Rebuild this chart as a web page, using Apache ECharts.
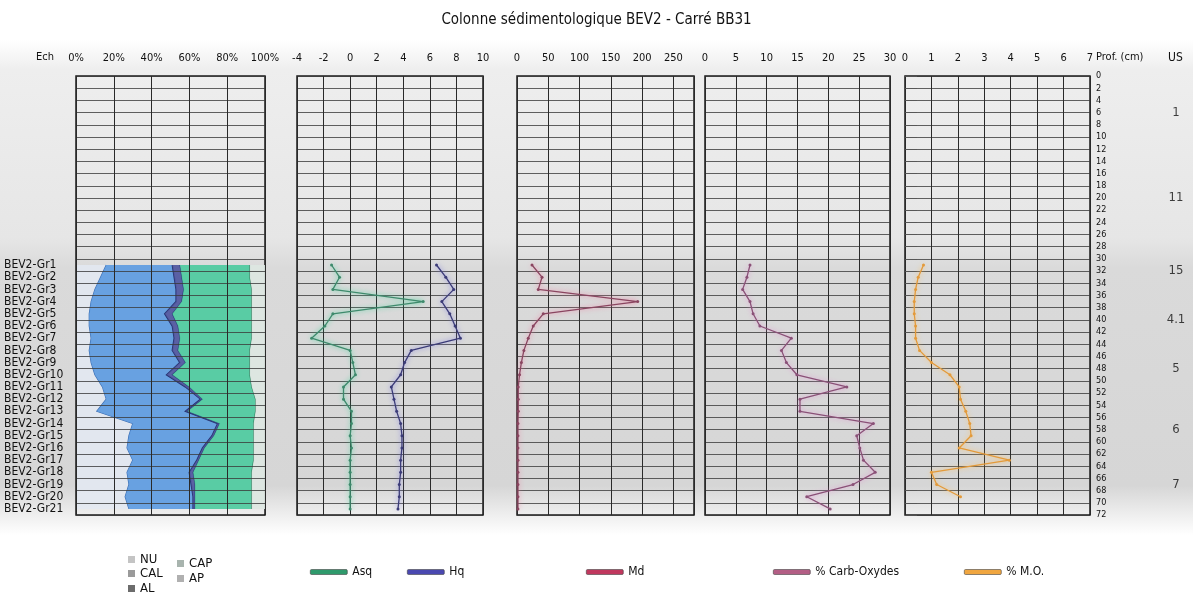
<!DOCTYPE html>
<html>
<head>
<meta charset="utf-8">
<script src="https://cdn.jsdelivr.net/npm/echarts@6/dist/echarts.min.js"></script>
<style>
  html, body { margin: 0; padding: 0; background: #ffffff; }
  #chart { width: 1193px; height: 595px; }
</style>
</head>
<body>
<div id="chart"></div>
<script>
// Sample identifiers and their depth (cm)
const sampleNames = ['BEV2-Gr1','BEV2-Gr2','BEV2-Gr3','BEV2-Gr4','BEV2-Gr5','BEV2-Gr6','BEV2-Gr7',
  'BEV2-Gr8','BEV2-Gr9','BEV2-Gr10','BEV2-Gr11','BEV2-Gr12','BEV2-Gr13','BEV2-Gr14',
  'BEV2-Gr15','BEV2-Gr16','BEV2-Gr17','BEV2-Gr18','BEV2-Gr19','BEV2-Gr20','BEV2-Gr21'];
const sampleDepths = [31,33,35,37,39,41,43,45,47,49,51,53,55,57,59,61,63,65,67,69,71];

// Granulometric composition (%)
const compNames = ['NU','CAL','AL','CAP','AP'];
const NU  = [16,13,10,8,7,7,8,7,8,10,14,16,11,30,28,27,30,27,28,26,28];
const CAL = [35,39,43,45,40,44,44,44,47,38,44,50,47,45,44,40,34,33,33,36,34];
const AL  = [4,4,4,3,4,3,3,3,3,3,2,1,1,1,1,1,1,2,2,1,1];
const CAP = [37,36,36,37,42,39,38,38,34,41,33,28,36,18,21,26,29,31,30,30,30];
const AP  = [8,8,7,7,7,7,7,8,8,8,7,5,5,6,6,6,6,7,7,7,7];

// Indices and measurements
const asq  = [-1.4,-0.8,-1.3,5.5,-1.3,-1.9,-2.9,0.0,0.2,0.4,-0.5,-0.5,0.1,0.1,0.0,0.1,0.0,0.0,0.0,0.0,0.0];
const hq   = [6.5,7.2,7.8,6.9,7.5,7.9,8.3,4.6,4.1,3.8,3.1,3.3,3.5,3.8,3.9,3.9,3.8,3.8,3.7,3.7,3.6];
const md   = [24,40,34,193,42,26,18,11,7,4,2,2,2,1.5,1.5,1.5,1.5,1.5,1.5,1.5,1.5];
const carb = [7.3,6.8,6.1,7.3,7.8,8.9,14.0,12.4,13.2,14.9,23.0,15.4,15.4,27.3,24.6,25.1,25.7,27.6,24.0,16.5,20.3];
const mo   = [0.7,0.5,0.4,0.35,0.35,0.4,0.4,0.55,1.0,1.7,2.05,2.1,2.3,2.45,2.5,2.05,3.95,1.0,1.2,2.1,null];

// Stratigraphic units
const usNames  = ['1','11','15','4.1','5','6','7'];
const usDepths = [6,20,32,40,48,58,67];

const depthMin = 0, depthMax = 72;

const FONT = "'DejaVu Sans Condensed', 'Liberation Sans Narrow', 'Liberation Sans', Arial, sans-serif";
const GRID_TOP = 76, GRID_H = 439;

const compColors = ['#e3e8f1', '#5e9ce2', '#4f56a0', '#4ecba0', '#dde7e2'];
const compEdges  = ['#3d6db0', '#27336f', '#2a3a7a', '#2d7d5c', null];
const compLegend = ['#c4c4c4', '#9a9a9a', '#6c6c6c', '#a8b4ae', '#b0b0b0'];
// legend placement of the composition entries
const compLegendPos = [[128, 553], [128, 567], [128, 582], [177, 557], [177, 572]];

// cumulative boundaries of the stacked composition
const comps = [NU, CAL, AL, CAP, AP];
const cum = [sampleDepths.map(() => 0)];
comps.forEach((arr, k) => cum.push(arr.map((v, i) => cum[k][i] + v)));

const chart = echarts.init(document.getElementById('chart'));

const panels = [
  { left: 76,  width: 189, min: 0,  max: 100, interval: 20, fmt: '{value}%' },
  { left: 297, width: 186, min: -4, max: 10,  interval: 2 },
  { left: 517, width: 177, min: 0,  max: 283, interval: 50, hideMax: true },
  { left: 705, width: 185, min: 0,  max: 30,  interval: 5 },
  { left: 905, width: 185, min: 0,  max: 7,   interval: 1 }
];

const grids = panels.map(p => ({
  left: p.left, width: p.width, top: GRID_TOP, height: GRID_H,
  show: true, borderColor: '#1a1a1a', borderWidth: 1.5, backgroundColor: 'transparent'
}));
grids.push({ left: 1150, width: 40, top: GRID_TOP, height: GRID_H, show: false });

const xAxes = panels.map((p, i) => ({
  type: 'value', gridIndex: i, position: 'top', min: p.min, max: p.max, interval: p.interval,
  z: i === 0 ? 5 : 0,
  axisLine: { show: false }, axisTick: { show: false },
  axisLabel: { color: '#111', fontFamily: FONT, fontSize: 11, margin: 12,
    formatter: p.fmt || '{value}', showMaxLabel: !p.hideMax },
  splitLine: { show: true, lineStyle: { color: '#2a2a2a', width: 1 } }
}));
xAxes.push({ type: 'value', gridIndex: 5, min: 0, max: 1, show: false });

function depthAxis(gridIndex, extra) {
  return Object.assign({
    type: 'value', gridIndex: gridIndex, inverse: true, min: depthMin, max: depthMax, interval: 2,
    axisLine: { show: false }, axisTick: { show: false }, axisLabel: { show: false },
    splitLine: { show: true, lineStyle: { color: '#3a3a3a', width: 0.8 } }
  }, extra || {});
}

const yAxes = [
  depthAxis(0, { z: 5 }),
  // sample names along the first column
  {
    type: 'value', gridIndex: 0, inverse: true, min: depthMin, max: depthMax, interval: 1,
    position: 'left', axisLine: { show: false }, axisTick: { show: false },
    splitLine: { show: false },
    axisLabel: {
      show: true, color: '#111', fontFamily: FONT, fontSize: 12, align: 'left', margin: 72,
      formatter: function (v) { const i = sampleDepths.indexOf(v); return i >= 0 ? sampleNames[i] : ''; }
    }
  },
  depthAxis(1),
  depthAxis(2),
  depthAxis(3),
  depthAxis(4, {
    position: 'right',
    axisTick: { show: true, length: 12, lineStyle: { color: '#555', width: 0.8 } },
    axisLabel: { show: true, color: '#111', fontFamily: FONT, fontSize: 9, margin: 6, align: 'left' }
  }),
  { type: 'value', gridIndex: 5, inverse: true, min: depthMin, max: depthMax, show: false }
];

const series = [];

// stacked composition bands
compNames.forEach((name, k) => {
  series.push({
    type: 'custom', name: name, xAxisIndex: 0, yAxisIndex: 0, z: 2,
    itemStyle: { color: compColors[k] },
    data: sampleDepths.map((d, i) => [cum[k][i], cum[k + 1][i], d]),
    encode: { x: [0, 1], y: 2 },
    renderItem: function (params, api) {
      if (params.dataIndex !== 0) return null;
      const left = [], right = [];
      for (let i = 0; i < sampleDepths.length; i++) {
        left.push(api.coord([cum[k][i], sampleDepths[i]]));
        right.push(api.coord([cum[k + 1][i], sampleDepths[i]]));
      }
      const children = [{
        type: 'polygon', shape: { points: left.concat(right.slice().reverse()) },
        style: { fill: compColors[k], opacity: 0.92 }
      }];
      if (compEdges[k]) {
        children.push({ type: 'polyline', shape: { points: right },
          style: { stroke: compEdges[k], lineWidth: k === 1 ? 1.6 : 1.1, fill: null } });
      }
      return { type: 'group', children: children };
    }
  });
});

function lineSeries(name, values, axisIdx, color, glow) {
  return {
    type: 'line', name: name, xAxisIndex: axisIdx, yAxisIndex: axisIdx === 0 ? 0 : axisIdx + 1,
    data: sampleDepths.map((d, i) => [values[i] === null ? '-' : values[i], d]),
    symbol: 'circle', symbolSize: 3, showSymbol: true,
    color: glow,
    lineStyle: { color: color, width: 1.3, shadowColor: glow, shadowBlur: 5 },
    itemStyle: { color: color },
    z: 3
  };
}

series.push(lineSeries('Asq', asq, 1, '#3e8a6c', '#3fd49a'));
series.push(lineSeries('Hq', hq, 1, '#3b3b78', '#7a78e0'));
series.push(lineSeries('Md', md, 2, '#8a4560', '#f07aa0'));
series.push(lineSeries('% Carb-Oxydes', carb, 3, '#8a5077', '#e090d0'));
series.push(lineSeries('% M.O.', mo, 4, '#e39a3a', '#ffc060'));

// stratigraphic unit labels
series.push({
  type: 'scatter', name: 'US', xAxisIndex: 5, yAxisIndex: 6, symbolSize: 1,
  itemStyle: { color: 'rgba(0,0,0,0)' },
  data: usDepths.map((d, i) => ({ value: [0.65, d], name: usNames[i] })),
  label: { show: true, position: 'inside', formatter: '{b}', color: '#111', fontFamily: FONT, fontSize: 13 },
  silent: true
});

const legTxt = { color: '#111', fontFamily: FONT, fontSize: 13 };
function lineLegend(name, left, color) {
  return {
    data: [{ name: name, itemStyle: { color: color, borderColor: '#444', borderWidth: 0.6 } }],
    left: left, top: 566, icon: 'roundRect', itemWidth: 37, itemHeight: 5, itemGap: 4,
    textStyle: { color: '#111', fontFamily: FONT, fontSize: 12 }, padding: 0
  };
}

const legends = compNames.map((n, k) => ({
  data: [{ name: n, itemStyle: { color: compLegend[k] } }],
  left: compLegendPos[k][0], top: compLegendPos[k][1],
  icon: 'rect', itemWidth: 7, itemHeight: 7, itemGap: 3, textStyle: legTxt, padding: 0
}));
legends.push(lineLegend('Asq', 310, '#2f9a6c'));
legends.push(lineLegend('Hq', 407, '#4a48b0'));
legends.push(lineLegend('Md', 586, '#c0385e'));
legends.push(lineLegend('% Carb-Oxydes', 773, '#b35e85'));
legends.push(lineLegend('% M.O.', 964, '#f0a640'));

const option = {
  animation: false,
  backgroundColor: '#ffffff',
  title: {
    text: 'Colonne sédimentologique BEV2 - Carré BB31', left: 'center', top: 8,
    textStyle: { color: '#111', fontFamily: FONT, fontSize: 15, fontWeight: 'normal' }
  },
  graphic: [
    {
      type: 'rect', z: -10, silent: true,
      shape: { x: 0, y: 40, width: 1193, height: 495 },
      style: {
        fill: new echarts.graphic.LinearGradient(0, 0, 0, 1, [
          { offset: 0, color: '#ffffff' },
          { offset: 0.06, color: '#eeeeee' },
          { offset: 0.4, color: '#e6e6e6' },
          { offset: 0.46, color: '#dadada' },
          { offset: 0.9, color: '#d6d6d6' },
          { offset: 1, color: '#ffffff' }
        ])
      }
    },
    { type: 'text', left: 36, top: 52, z: 10, style: { text: 'Ech', fill: '#111', font: "11px " + FONT } },
    { type: 'text', left: 1096, top: 52, z: 10, style: { text: 'Prof. (cm)', fill: '#111', font: "11px " + FONT } },
    { type: 'text', left: 1168, top: 52, z: 10, style: { text: 'US', fill: '#111', font: "12px " + FONT } }
  ],
  legend: legends,
  grid: grids,
  xAxis: xAxes,
  yAxis: yAxes,
  series: series
};

chart.setOption(option);
</script>
</body>
</html>
